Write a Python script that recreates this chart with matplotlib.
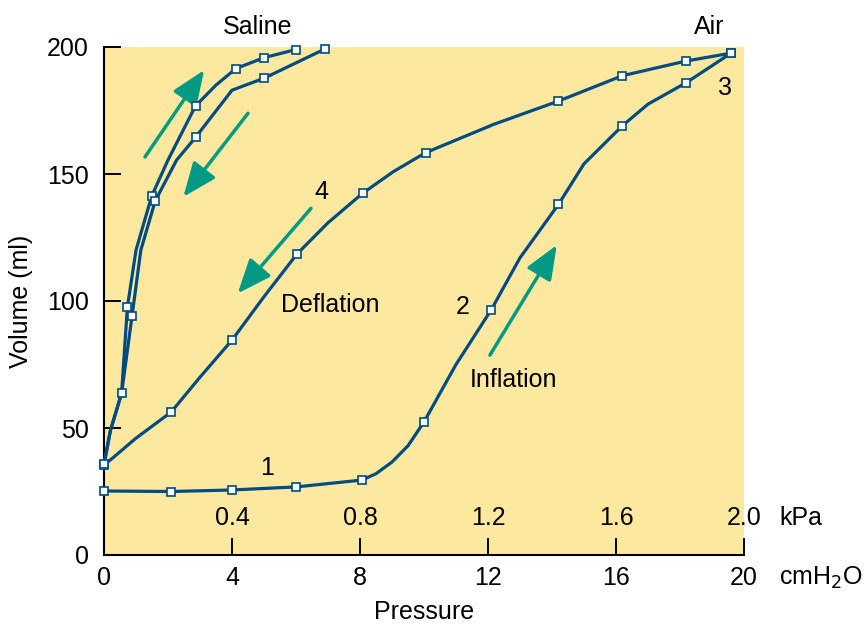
import matplotlib
import matplotlib.pyplot as plt

matplotlib.use('Agg')

# Air inflation curve (1 -> 2 -> 3)
air_in_p = [0, 2.1, 4.0, 6.0, 8.06, 8.5, 9.0, 9.5, 10.0, 11.0, 12.1, 13.0, 14.2, 15.0, 16.2, 17.0, 18.2, 19.6]
air_in_v = [25.2, 25.0, 25.6, 26.8, 29.5, 32, 36.6, 43, 52.4, 75, 96.5, 117, 138, 154, 169, 177.5, 186, 197.6]
air_in_mark = [0, 1, 2, 3, 4, 8, 10, 12, 14, 16, 17]

# Air deflation curve (3 -> 4)
air_out_p = [19.6, 18.2, 16.2, 14.2, 12.17, 10.05, 9.04, 8.08, 7.0, 6.03, 5.0, 4.0, 3.0, 2.1, 1.0, 0.3, 0]
air_out_v = [197.6, 194.5, 188.7, 178.7, 169.5, 158.4, 150.9, 142.4, 130.8, 118.5, 101.7, 84.6, 70, 56.3, 46, 38.5, 35.4]
air_out_mark = [0, 1, 2, 3, 5, 7, 9, 11, 13, 16]

# Saline curves
sal_a_p = [0, 0.2, 0.55, 0.73, 1.0, 1.49, 2.0, 2.86, 3.5, 4.12, 5.0, 6.0]
sal_a_v = [35.7, 49, 63.7, 97.5, 120, 141.3, 155.5, 176.8, 185, 191.5, 195.8, 199]
sal_a_mark = [0, 2, 3, 5, 7, 9, 10, 11]

sal_b_p = [6.9, 5.0, 4.0, 2.86, 2.27, 1.6, 1.15, 0.875, 0.55, 0.2, 0]
sal_b_v = [199.2, 187.7, 183, 164.4, 155.5, 139.4, 120, 94, 63.7, 49, 35.7]
sal_b_mark = [0, 1, 3, 5, 7]

x_ticks = [0, 4, 8, 12, 16, 20]
y_ticks = [0, 50, 100, 150, 200]
kpa_vals = [0.4, 0.8, 1.2, 1.6, 2.0]

# arrows: (tail, tip)
arrows = [
    ((1.28, 156.7), (3.13, 190.9)),
    ((4.5, 173.9), (2.48, 141.0)),
    ((6.47, 136.5), (4.18, 103.0)),
    ((12.06, 78.7), (14.15, 122.0)),
]

labels = [
    (4.81, 208, 'Saline'), (18.9, 208, 'Air'), (19.4, 184, '3'), (6.8, 143, '4'),
    (7.06, 98.4, 'Deflation'), (11.2, 97.6, '2'), (12.8, 69, 'Inflation'), (5.1, 34.3, '1'),
]

plt.rcParams['font.family'] = ['Liberation Sans', 'DejaVu Sans']
fs = 18
line_c = '#004b82'
arrow_c = '#009a84'

fig = plt.figure(figsize=(8.64, 6.28), dpi=100)
ax = fig.add_axes([104 / 864, 73 / 628, 640 / 864, 508 / 628])
ax.set_facecolor('#fde8a0')
ax.set_xlim(0, 20)
ax.set_ylim(0, 200)

for p, v, m in [(air_in_p, air_in_v, air_in_mark), (air_out_p, air_out_v, air_out_mark),
                (sal_a_p, sal_a_v, sal_a_mark), (sal_b_p, sal_b_v, sal_b_mark)]:
    ax.plot(p, v, color=line_c, lw=2.3, clip_on=False, zorder=3, solid_joinstyle='round')
    ax.plot([p[i] for i in m], [v[i] for i in m], 's', ms=5.8, mfc='white', mec=line_c,
            mew=1.2, clip_on=False, zorder=4)

for tail, tip in arrows:
    ax.annotate('', xy=tip, xytext=tail,
                arrowprops=dict(arrowstyle='-|>,head_length=1.1,head_width=0.45',
                                mutation_scale=19, color=arrow_c, lw=2.5,
                                shrinkA=0, shrinkB=0))

for x, y, s in labels:
    ax.text(x, y, s, fontsize=fs, ha='center', va='center', clip_on=False)

for k in kpa_vals:
    ax.text(k * 10, 14.6, f'{k:.1f}', fontsize=fs, ha='center', va='center')
ax.text(21.1, 14.6, 'kPa', fontsize=fs, ha='left', va='center', clip_on=False)
ax.text(21.1, -9, 'cmH$_2$O', fontsize=fs, ha='left', va='center', clip_on=False)

ax.spines['top'].set_visible(False)
ax.spines['right'].set_visible(False)
ax.spines['left'].set_linewidth(1.5)
ax.spines['bottom'].set_linewidth(1.5)
ax.set_xticks(x_ticks)
ax.set_yticks(y_ticks)
ax.tick_params(direction='in', length=12.5, width=1.4, labelsize=fs)
ax.tick_params(axis='y', pad=11)
ax.tick_params(axis='x', pad=8)
ax.set_xlabel('Pressure', fontsize=fs, labelpad=7)
ax.set_ylabel('Volume (ml)', fontsize=fs, labelpad=10)

fig.savefig('out.png', dpi=100)
